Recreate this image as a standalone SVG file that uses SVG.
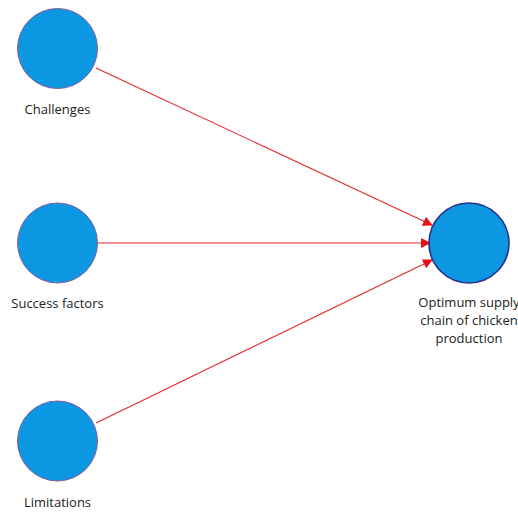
<svg xmlns="http://www.w3.org/2000/svg" width="518" height="512" viewBox="0 0 518 512">
<style>
.node{fill:#0b97e2;stroke:#8a5a9a;stroke-width:1}
.target{fill:#0b97e2;stroke:#2a2f8a;stroke-width:1.6}
.lbl{font-family:"Open Sans","Noto Sans",sans-serif;font-size:13px;fill:#222;text-anchor:middle}
.edge{stroke:#e8262a;stroke-width:1.1;fill:none;marker-end:url(#ah)}
</style>
<defs>
<marker id="ah" viewBox="0 0 10 10" refX="9" refY="5" markerWidth="10" markerHeight="10" markerUnits="userSpaceOnUse" orient="auto">
<path d="M0,0 L10,5 L0,10 z" fill="#e8101a"/>
</marker>
</defs>
<rect width="518" height="512" fill="#fff"/>
<g id="connectors">
<line class="edge" x1="96" y1="68" x2="432" y2="225"/>
<line class="edge" x1="98" y1="243" x2="430" y2="243"/>
<line class="edge" x1="96" y1="423" x2="432" y2="260"/>
</g>
<g id="challenges">
<circle class="node" cx="57.5" cy="48.5" r="40"/>
<text class="lbl" x="57.5" y="114">Challenges</text>
</g>
<g id="success">
<circle class="node" cx="57.5" cy="243" r="40"/>
<text class="lbl" x="57.5" y="308">Success factors</text>
</g>
<g id="limitations">
<circle class="node" cx="57.5" cy="441" r="40"/>
<text class="lbl" x="57.5" y="507">Limitations</text>
</g>
<g id="optimum">
<circle class="target" cx="469" cy="243" r="40"/>
<text class="lbl" x="469" y="307">Optimum supply</text>
<text class="lbl" x="469" y="325">chain of chicken</text>
<text class="lbl" x="469" y="343">production</text>
</g>
</svg>
